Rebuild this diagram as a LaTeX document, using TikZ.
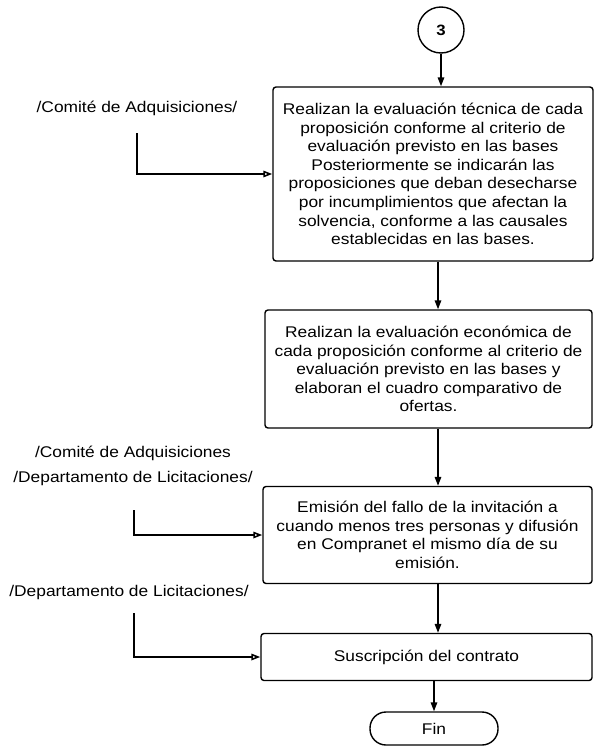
\documentclass[tikz,border=0pt]{standalone}
\usepackage{fontspec}
\setmainfont{Liberation Sans}[FakeStretch=1.12]
\usetikzlibrary{arrows.meta}
\begin{document}
\begin{tikzpicture}[x=1pt,y=-1pt,
  txt/.style={font=\fontsize{15.5}{18.6}\selectfont},
  box/.style={draw, line width=1.4pt, rounded corners=3pt, align=center, txt, inner sep=0pt},
  lbl/.style={align=center, txt, inner sep=0pt},
  varr/.style={line width=1.5pt, -{Triangle[length=9pt,width=6.5pt]}},
  harr/.style={line width=1.6pt, -{Triangle[open,length=9pt,width=6.5pt]}}]
\useasboundingbox (0,0) rectangle (597,747);

\node[draw, circle, line width=1.4pt, minimum size=46pt, inner sep=0pt, font=\fontsize{15}{18}\selectfont\bfseries] (c3) at (441,30) {3};

\node[box, minimum width=320pt, minimum height=174pt] (b1) at (433,174) {Realizan la evaluación técnica de cada\\proposición conforme al criterio de\\evaluación previsto en las bases\\Posteriormente se indicarán las\\proposiciones que deban desecharse\\por incumplimientos que afectan la\\solvencia, conforme a las causales\\establecidas en las bases.};

\node[box, minimum width=327pt, minimum height=118pt] (b2) at (428.5,369) {Realizan la evaluación económica de\\cada proposición conforme al criterio de\\evaluación previsto en las bases y\\elaboran el cuadro comparativo de\\ofertas.};

\node[box, minimum width=329pt, minimum height=97pt] (b3) at (427.5,535) {Emisión del fallo de la invitación a\\cuando menos tres personas y difusión\\en Compranet el mismo día de su\\emisión.};

\node[box, minimum width=331pt, minimum height=47pt] (b4) at (426.5,657) {Suscripción del contrato};

\node[draw, line width=1.4pt, rounded corners=16pt, minimum width=128pt, minimum height=33pt, inner sep=0pt, txt] (fin) at (434,728.5) {Fin};

\node[lbl] (l1) at (137,108) {/Comité de Adquisiciones/};
\node[lbl, font=\fontsize{15.5}{25}\selectfont] (l2) at (133,465.5) {/Comité de Adquisiciones\\/Departamento de Licitaciones/};
\node[lbl] (l3) at (129,592) {/Departamento de Licitaciones/};

\coordinate (ax) at (438,0);
\coordinate (s1) at (137,133);
\coordinate (s2) at (134,510);
\coordinate (s3) at (134,613);

\draw[varr] (c3.south) -- (c3.south |- b1.north);
\draw[varr] (b1.south -| ax) -- (b2.north -| ax);
\draw[varr] (b2.south -| ax) -- (b3.north -| ax);
\draw[varr] (b3.south -| ax) -- (b4.north -| ax);
\draw[varr] (b4.south -| fin.north) -- (fin.north);

\draw[harr] (s1) |- (b1.west);
\draw[harr] (s2) |- (b3.west);
\draw[harr] (s3) |- (b4.west);
\end{tikzpicture}
\end{document}
